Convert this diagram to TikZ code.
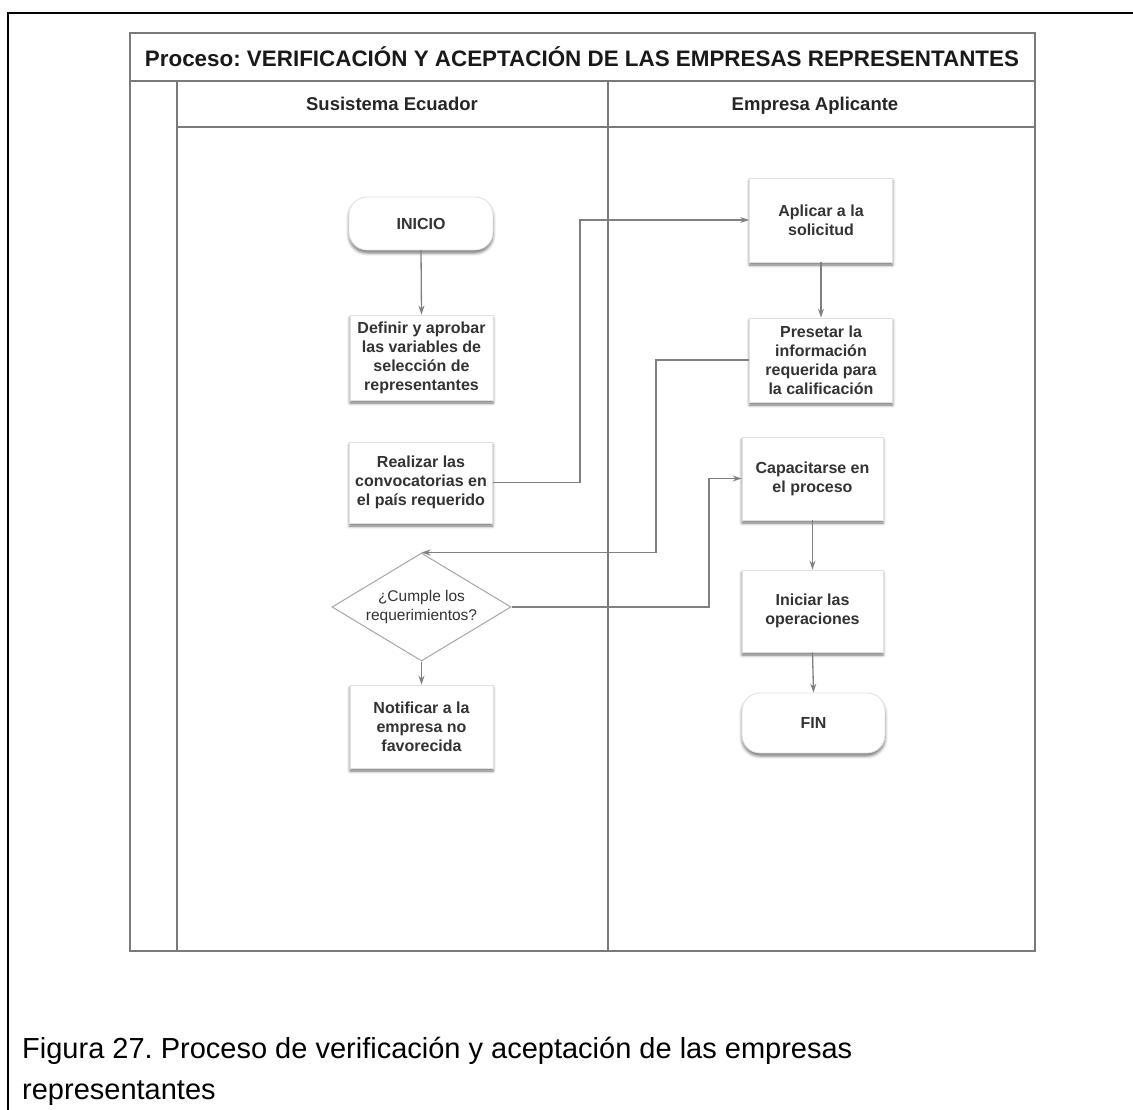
\documentclass[tikz,border=0pt]{standalone}
\usepackage{fontspec}
\setmainfont{Liberation Sans}
\usetikzlibrary{arrows.meta,shapes.geometric,shadows.blur,calc}
\frenchspacing

\definecolor{laneline}{HTML}{7A7A7A}
\definecolor{connline}{HTML}{808080}
\definecolor{boxtext}{HTML}{333333}
\definecolor{boxedge}{HTML}{E0E0E0}

\tikzset{
  lane/.style={draw=laneline, line width=1.5pt},
  stepbox/.style={rectangle, draw=boxedge, fill=white, line width=0.8pt,
    minimum width=143pt, minimum height=84pt, inner sep=0pt,
    align=center, text=boxtext,
    font=\fontsize{16}{19}\selectfont\bfseries,
    blur shadow={shadow xshift=0pt, shadow yshift=-3pt,
      shadow blur radius=3pt, shadow opacity=55}},
  terminal/.style={stepbox, rounded corners=18pt, minimum height=56pt},
  decision/.style={diamond, draw=gray!70, fill=white, line width=1pt,
    minimum width=179pt, minimum height=108pt, inner sep=0pt, aspect=1.66,
    align=center, text=boxtext, font=\fontsize{15.5}{19}\selectfont},
  conn/.style={draw=connline, line width=1.3pt,
    -{Stealth[length=9pt,width=6pt,fill=gray!60!black]}},
  lanehead/.style={anchor=base, font=\fontsize{18.5}{22}\selectfont\bfseries, text=black!85},
}

\begin{document}
\begin{tikzpicture}[x=1pt,y=-1pt]
  \useasboundingbox (0,0) rectangle (1133,1109);

  % page frame
  \draw[line width=2pt, black] (1134,13) -- (8,13) -- (8,1110);

  % pool and lanes
  \draw[lane] (130,33) rectangle (1035,951);
  \draw[lane] (130,81) -- (1035,81);
  \draw[lane] (177,81) -- (177,951);
  \draw[lane] (177,127) -- (1035,127);
  \draw[lane] (608,81) -- (608,951);

  \node[font=\fontsize{22.4}{26}\selectfont\bfseries, text=black!90] (title) at (582,57)
    {Proceso: VERIFICACIÓN Y ACEPTACIÓN DE LAS EMPRESAS REPRESENTANTES};
  \node[lanehead] (laneA) at (392,110.5) {Susistema Ecuador};
  \node[lanehead] (laneB) at (815,110.5) {Empresa Aplicante};

  % left lane
  \node[terminal, minimum width=144pt, minimum height=53pt] (inicio) at (421,223.5) {INICIO};
  \node[stepbox, minimum height=85pt] (def) at (421.5,357.5)
    {Definir y aprobar\\las variables de\\selección de\\representantes};
  \node[stepbox, minimum height=81pt] (real) at (421,482.5)
    {Realizar las\\convocatorias en\\el país requerido};
  \node[decision] (dec) at (421.5,607) {¿Cumple los\\requerimientos?};
  \node[stepbox, minimum height=83pt] (notif) at (421.5,726.5)
    {Notificar a la\\empresa no\\favorecida};

  % right lane
  \node[stepbox] (aplic) at (821,220) {Aplicar a la\\solicitud};
  \node[stepbox] (pres) at (821,360)
    {Presetar la\\información\\requerida para\\la calificación};
  \node[stepbox, minimum width=141pt, minimum height=83pt] (capa) at (812.5,478.5)
    {Capacitarse en\\el proceso};
  \node[stepbox, minimum width=141pt, minimum height=82pt] (inic) at (812.5,611)
    {Iniciar las\\operaciones};
  \node[terminal, minimum width=143pt, minimum height=60pt] (fin) at (813.5,723) {FIN};

  % routing columns for the cross-lane connectors
  \coordinate (colA) at (580,0);
  \coordinate (colB) at (656,0);
  \coordinate (colC) at (709,0);

  % connectors
  \draw[conn] (inicio.south) -- (def.north);
  \draw[conn] (real.east) -- (real.east -| colA) |- (aplic.west);
  \draw[conn] (aplic.south) -- (pres.north);
  \draw[conn] (pres.west) -- (pres.west -| colB) |- (dec.north);
  \draw[conn] (dec.east) -- (dec.east -| colC) |- (capa.west);
  \draw[conn] (dec.south) -- (notif.north);
  \draw[conn] (capa.south) -- (inic.north);
  \draw[conn] (inic.south) -- (fin.north);

  % caption
  \node[anchor=base west, inner sep=0pt, font=\fontsize{29}{34}\selectfont] (cap1) at (22,1058)
    {Figura 27. Proceso de verificación y aceptación de las empresas};
  \node[anchor=base west, inner sep=0pt, font=\fontsize{29}{34}\selectfont] (cap2) at (22,1099)
    {representantes};
\end{tikzpicture}
\end{document}
